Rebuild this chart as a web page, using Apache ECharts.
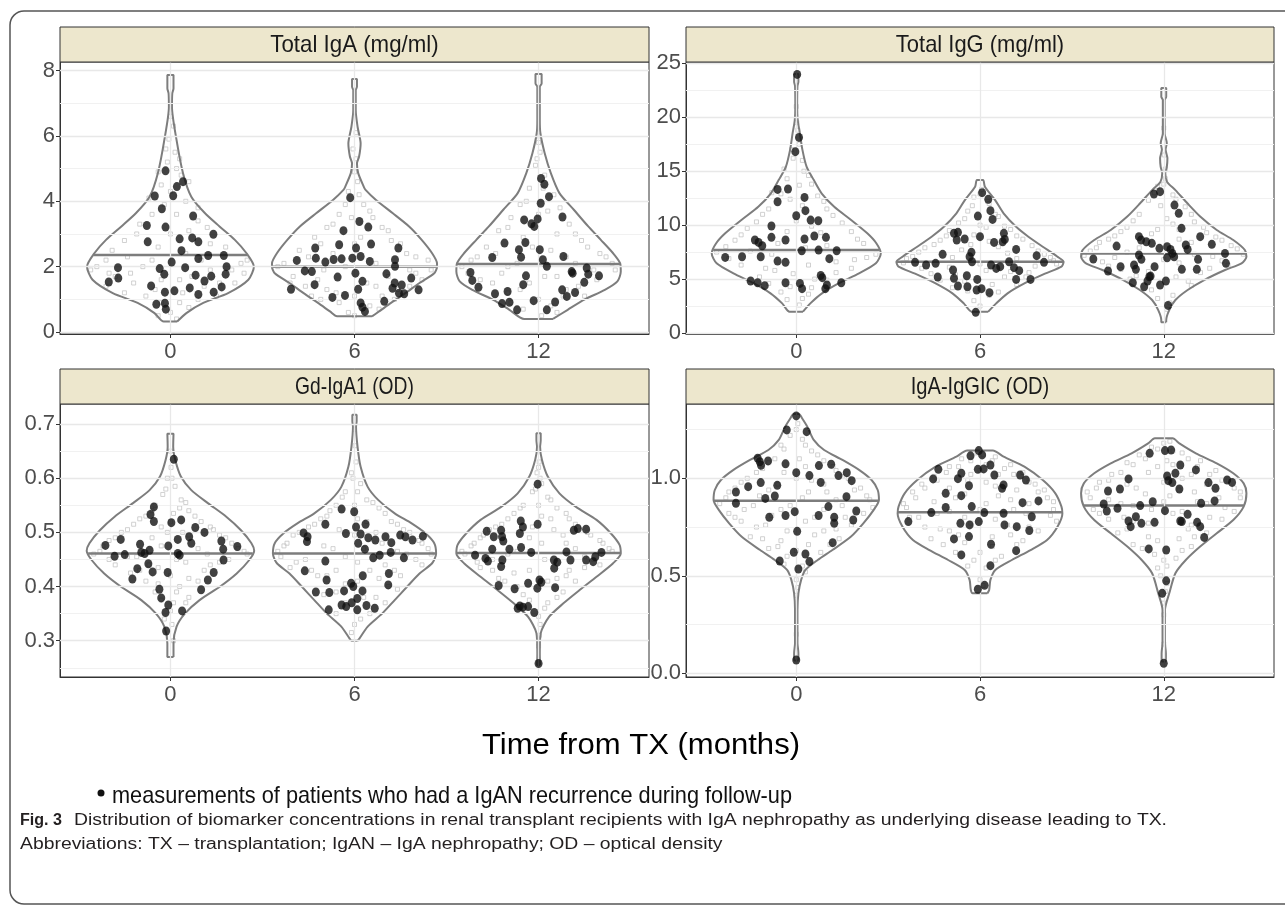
<!DOCTYPE html>
<html><head><meta charset="utf-8">
<script src="https://cdn.jsdelivr.net/npm/echarts@6/dist/echarts.min.js"></script>
<style>html,body{margin:0;padding:0;background:#fff}#c{width:1285px;height:906px}</style>
</head><body><div id="c"></div>
<script>
// ---------------- DATA ----------------
const months = ['0', '6', '12'];
const monthPos = [0, 6, 12];
const panelTitles = ['Total IgA (mg/ml)', 'Total IgG (mg/ml)', 'Gd-IgA1 (OD)', 'IgA-IgGIC (OD)'];

// tick values
const igaTicks = [0, 2, 4, 6, 8];
const igaMinorGrid = [1, 3, 5, 7];
const iggTicks = [0, 5, 10, 15, 20, 25];
const iggMinorGrid = [2.5, 7.5, 12.5, 17.5, 22.5];
const gdTicks = [0.3, 0.4, 0.5, 0.6, 0.7];
const gdMinorGrid = [0.25, 0.35, 0.45, 0.55, 0.65];
const icTicks = [0, 0.5, 1.0];
const icMinorGrid = [0.25, 0.75, 1.25];

// medians
const igaMedians = [2.36, 2.0, 2.08];
const iggMedians = [7.69, 6.61, 7.38];
const gdMedians = [0.461, 0.461, 0.462];
const icMedians = [0.885, 0.826, 0.86];

// violin profiles: [value, half-width (in months units)], bottom -> top
const igaViolin0 = [[0.32,0.22],[0.58,0.52],[0.89,1.07],[1.19,1.88],[1.6,2.54],[2.0,2.72],[2.41,2.48],[2.82,2.1],[3.23,1.6],[3.64,1.12],[4.14,0.68],[4.86,0.41],[5.87,0.2],[6.89,0.05],[7.3,0.06],[7.45,0.1],[7.86,0.1]];
const igaViolin6 = [[0.48,0.57],[0.63,0.8],[0.89,1.19],[1.19,1.66],[1.5,2.12],[1.8,2.6],[2.0,2.69],[2.1,2.69],[2.41,2.53],[2.82,2.19],[3.23,1.78],[3.64,1.24],[4.04,0.7],[4.35,0.36],[4.45,0.3],[4.86,0.12],[5.16,0.08],[5.37,0.15],[5.77,0.2],[6.28,0.1],[6.79,0.04],[7.4,0.04],[7.5,0.08],[7.74,0.08]];
const igaViolin12 = [[0.4,0.47],[0.68,0.95],[0.99,1.49],[1.29,2.16],[1.55,2.57],[1.85,2.68],[2.1,2.66],[2.41,2.43],[2.82,2.03],[3.23,1.62],[3.74,1.15],[4.25,0.68],[4.86,0.4],[5.47,0.2],[6.08,0.06],[6.5,0.04],[7.5,0.04],[7.6,0.1],[7.89,0.1]];
const iggViolin0 = [[1.98,0.22],[2.75,0.46],[3.68,0.84],[4.6,1.38],[5.53,2.05],[6.46,2.6],[7.38,2.76],[8.3,2.62],[9.24,2.32],[10.5,1.78],[11.7,1.24],[12.9,0.84],[14.2,0.57],[15.4,0.34],[17.0,0.2],[18.5,0.12],[19.7,0.05],[21.0,0.03],[22.9,0.04],[23.3,0.07],[24.0,0.07]];
const iggViolin6 = [[1.98,0.27],[2.75,0.53],[3.68,0.9],[4.6,1.45],[5.5,2.12],[6.15,2.66],[6.6,2.73],[7.07,2.53],[8.0,2.05],[8.93,1.58],[9.85,1.18],[11.1,0.77],[12.3,0.5],[13.56,0.16],[14.18,0.1]];
const iggViolin12 = [[1.0,0.08],[1.2,0.08],[2.13,0.18],[3.06,0.38],[3.99,0.78],[4.91,1.32],[5.84,2.0],[6.46,2.54],[7.07,2.7],[7.69,2.65],[8.62,2.27],[9.55,1.73],[10.8,1.19],[12.0,0.78],[13.25,0.38],[14.0,0.11],[14.8,0.05],[15.4,0.1],[16.2,0.12],[17.0,0.06],[17.6,0.1],[18.5,0.03],[21.6,0.03],[21.9,0.08],[22.7,0.08]];
const gdViolin0 = [[0.27,0.1],[0.295,0.1],[0.326,0.2],[0.35,0.47],[0.375,0.95],[0.4,1.62],[0.424,2.16],[0.449,2.57],[0.466,2.73],[0.48,2.64],[0.504,2.3],[0.529,1.82],[0.554,1.22],[0.578,0.68],[0.603,0.34],[0.633,0.16],[0.658,0.09],[0.682,0.1]];
const gdViolin6 = [[0.3,0.1],[0.304,0.16],[0.326,0.43],[0.35,0.9],[0.375,1.31],[0.4,1.72],[0.424,2.12],[0.443,2.53],[0.461,2.66],[0.48,2.6],[0.498,2.32],[0.517,1.85],[0.535,1.31],[0.56,0.77],[0.584,0.43],[0.621,0.2],[0.658,0.1],[0.695,0.05],[0.705,0.07],[0.717,0.07]];
const gdViolin12 = [[0.255,0.05],[0.277,0.04],[0.314,0.07],[0.344,0.34],[0.369,0.81],[0.394,1.35],[0.418,1.89],[0.443,2.43],[0.461,2.68],[0.477,2.64],[0.498,2.36],[0.523,1.89],[0.547,1.22],[0.572,0.68],[0.603,0.3],[0.634,0.11],[0.658,0.05],[0.67,0.07],[0.683,0.07]];
const icViolin0 = [[0.065,0.07],[0.103,0.07],[0.154,0.04],[0.325,0.04],[0.41,0.07],[0.479,0.16],[0.53,0.3],[0.581,0.7],[0.632,1.18],[0.7,1.78],[0.769,2.19],[0.838,2.53],[0.889,2.7],[0.94,2.66],[0.991,2.46],[1.043,2.05],[1.094,1.51],[1.145,0.91],[1.197,0.57],[1.265,0.36],[1.308,0.19],[1.33,0.09]];
const icViolin6 = [[0.41,0.24],[0.427,0.3],[0.479,0.34],[0.53,0.5],[0.581,1.04],[0.632,1.65],[0.684,2.19],[0.752,2.53],[0.82,2.69],[0.855,2.66],[0.923,2.46],[0.991,2.05],[1.06,1.45],[1.111,0.77],[1.142,0.42]];
const icViolin12 = [[0.06,0.07],[0.103,0.07],[0.154,0.04],[0.325,0.04],[0.41,0.18],[0.513,0.38],[0.581,0.72],[0.65,1.19],[0.718,1.73],[0.786,2.27],[0.855,2.61],[0.923,2.7],[0.974,2.61],[1.026,2.27],[1.077,1.73],[1.128,1.05],[1.179,0.51],[1.205,0.29]];

// black dots (recurrence patients): [x jitter in months units, value]
const igaDots0 = [[-0.16,4.93],[0.41,4.60],[0.21,4.45],[0.09,4.17],[-0.51,4.16],[-0.28,3.77],[0.74,3.55],[-0.77,3.26],[-0.16,3.21],[-0.74,2.76],[0.30,2.85],[0.71,2.88],[0.91,2.76],[0.36,2.49],[1.40,2.99],[1.23,2.34],[1.74,2.34],[0.91,2.25],[1.83,2.0],[1.80,1.77],[0.04,2.14],[0.48,1.97],[-0.35,1.94],[-0.2,1.77],[-1.71,1.97],[-1.70,1.65],[-2.01,1.53],[0.82,1.74],[1.33,1.71],[1.11,1.56],[-0.63,1.41],[-0.18,1.22],[0.13,1.26],[0.63,1.35],[0.91,1.15],[1.41,1.22],[1.67,1.38],[-0.46,0.85],[-0.18,0.88],[-0.15,0.70]];
const igaDots6 = [[-0.14,4.11],[0.16,3.38],[0.45,3.21],[-0.36,3.10],[-0.5,2.67],[0.05,2.57],[0.54,2.69],[0.2,2.31],[0.5,2.16],[1.43,2.57],[1.32,2.21],[1.32,2.01],[-1.28,2.57],[-1.26,2.26],[-1.62,1.87],[-1.39,1.85],[-1.88,2.19],[-0.95,2.14],[-0.68,2.22],[-0.42,2.24],[-0.07,2.26],[-2.07,1.31],[-1.3,1.45],[-0.55,1.68],[0.03,1.8],[0.26,1.55],[0.12,1.31],[-0.72,1.06],[-0.31,1.12],[0.2,0.89],[0.26,0.76],[0.34,0.63],[1.04,1.78],[1.31,1.5],[1.24,1.34],[1.54,1.44],[1.85,1.65],[2.09,1.29],[1.45,1.19],[1.62,1.17],[0.97,0.94]];
const igaDots12 = [[0.08,4.70],[0.19,4.52],[0.34,4.14],[0.07,3.94],[0.78,3.52],[-0.47,3.43],[-0.23,3.31],[-0.14,3.23],[-0.03,3.46],[-1.11,2.72],[-0.43,2.74],[-0.64,2.52],[-0.57,2.29],[0.04,2.52],[0.14,2.21],[0.27,2.01],[0.81,2.31],[-1.51,2.28],[-0.41,1.72],[1.08,1.85],[1.11,1.8],[1.57,1.96],[1.62,1.77],[1.97,1.72],[1.49,1.52],[-2.22,1.82],[-2.16,1.58],[-1.96,1.37],[-1.42,1.17],[-1.01,1.24],[-0.95,0.91],[-1.19,0.87],[-0.7,0.68],[-0.5,1.45],[-0.16,0.96],[0.27,0.68],[0.54,0.92],[0.77,1.29],[0.92,1.09],[1.19,1.21]];
const iggDots0 = [[0.03,23.97],[0.09,18.13],[-0.03,16.81],[-0.61,13.31],[-0.27,13.35],[-0.61,12.17],[0.27,12.57],[0,10.87],[0.3,11.34],[0.47,10.47],[0.72,10.41],[-0.81,9.92],[-0.81,8.87],[-1.35,8.62],[-1.23,8.4],[-1.11,8.09],[-0.35,8.62],[0.27,8.71],[0.59,8.99],[0.97,8.87],[0.18,7.63],[0.73,7.69],[1.32,7.63],[1.08,6.89],[-2.32,7.01],[-1.77,7.07],[-1.16,7.07],[-0.61,6.67],[-0.35,6.55],[0.8,5.34],[0.85,5.13],[1.0,4.45],[0.95,4.11],[1.47,4.66],[-1.49,4.82],[-1.26,4.66],[-1.03,4.39],[-0.35,4.66],[0.12,4.6],[0.19,4.11]];
const iggDots6 = [[0.07,13.01],[0.27,12.39],[0.34,11.34],[0.41,10.53],[-0.07,10.84],[0,8.93],[-0.76,8.62],[-0.5,8.71],[-0.85,9.24],[-0.72,9.33],[0.78,9.24],[0.74,8.46],[0.81,8.68],[0.46,8.4],[1.18,7.75],[1.85,7.17],[2.09,6.55],[-0.28,7.48],[-0.34,7.07],[-0.26,6.61],[-1.22,7.29],[-2.12,6.55],[-1.76,6.3],[-1.45,6.46],[-0.88,5.84],[-0.85,5.07],[-1.38,5.19],[-0.43,5.31],[-0.09,4.97],[0.36,6.3],[0.53,5.99],[0.66,6.15],[0.95,6.61],[1.11,6.06],[1.28,5.78],[1.18,4.97],[1.65,4.97],[-0.72,4.36],[-0.41,4.29],[-0.11,3.99],[0.05,4.11],[0.31,3.74],[-0.14,1.92]];
const iggDots12 = [[-0.32,12.88],[-0.12,13.1],[0.35,11.86],[0.49,11.09],[0.58,9.7],[-0.81,8.93],[-0.74,8.62],[-0.57,8.46],[-0.39,8.31],[-0.14,7.85],[0.11,8.0],[0.22,7.75],[0.72,8.16],[0.78,7.75],[1.19,8.93],[1.57,8.22],[-1.54,8.06],[-2.3,6.86],[-1.82,5.75],[-1.41,6.15],[-0.81,7.23],[-0.73,6.83],[-0.97,6.3],[-0.91,5.9],[-0.3,6.15],[0.11,6.98],[0.34,7.07],[0.28,7.38],[0.59,5.9],[1.12,6.83],[1.08,5.9],[2.0,7.38],[2.03,6.46],[-1.01,4.66],[-0.64,4.29],[-0.47,5.22],[-0.12,4.45],[0.07,4.82],[0.14,2.56],[-0.43,5.28],[-0.53,4.82]];
const gdDots0 = [[0.11,0.635],[-0.54,0.547],[-0.65,0.533],[-0.54,0.520],[0.03,0.518],[0.35,0.523],[0.81,0.509],[1.11,0.500],[0.24,0.487],[0.61,0.492],[0.68,0.480],[-1.62,0.487],[-2.12,0.476],[-1.49,0.459],[-1.82,0.456],[-0.99,0.478],[-0.95,0.463],[-0.68,0.467],[-0.84,0.461],[-0.07,0.475],[0.24,0.461],[0.3,0.458],[1.66,0.484],[1.72,0.469],[1.73,0.449],[2.18,0.474],[-0.72,0.442],[-1.08,0.433],[-1.24,0.414],[-0.58,0.427],[-0.09,0.426],[1.41,0.426],[1.22,0.412],[1.0,0.394],[-0.36,0.395],[-0.3,0.379],[-0.07,0.366],[-0.16,0.352],[0.38,0.355],[-0.14,0.318]];
const gdDots6 = [[-0.42,0.543],[-0.01,0.538],[0.36,0.515],[0.05,0.510],[-0.95,0.515],[-0.28,0.498],[-1.66,0.499],[-1.53,0.492],[-1.55,0.483],[0.2,0.497],[0.45,0.490],[0.12,0.480],[0.34,0.469],[0.68,0.486],[1.01,0.492],[1.2,0.481],[1.49,0.495],[1.66,0.492],[1.89,0.486],[2.23,0.493],[0.61,0.453],[0.82,0.458],[1.18,0.463],[1.61,0.453],[-0.95,0.447],[-1.62,0.429],[-0.91,0.412],[-1.26,0.390],[-0.82,0.389],[-0.34,0.392],[-0.04,0.400],[-0.11,0.406],[0.27,0.420],[0.26,0.392],[1.12,0.424],[1.1,0.403],[-0.42,0.366],[0.09,0.378],[0.09,0.357],[-0.27,0.363],[0.39,0.365],[0.66,0.360],[-0.84,0.357],[-0.09,0.370]];
const gdDots12 = [[-0.03,0.589],[-0.03,0.515],[-0.58,0.521],[-0.51,0.510],[-0.61,0.498],[-1.69,0.502],[-1.46,0.492],[-1.22,0.504],[-1.19,0.492],[-1.15,0.484],[-0.57,0.472],[-0.95,0.469],[-1.51,0.469],[-2.07,0.458],[-1.73,0.452],[-1.65,0.447],[-1.18,0.449],[-0.24,0.463],[0.5,0.449],[0.61,0.445],[0.91,0.464],[1.04,0.449],[1.15,0.504],[1.28,0.507],[1.55,0.506],[1.55,0.449],[1.78,0.446],[1.85,0.455],[2.05,0.463],[-1.22,0.437],[0.51,0.434],[-0.34,0.406],[0.03,0.412],[0.09,0.408],[-0.04,0.397],[-0.78,0.396],[0.54,0.398],[-1.3,0.402],[-0.61,0.364],[-0.34,0.363],[-0.51,0.362],[-0.68,0.360],[-0.14,0.352],[0,0.258]];
const icDots0 = [[0,1.320],[-0.31,1.248],[0.34,1.239],[-1.26,1.103],[-1.19,1.085],[-0.92,1.089],[-0.35,1.074],[0.74,1.065],[1.14,1.072],[-1.15,1.067],[-1.57,0.957],[-1.16,0.978],[-1.01,0.897],[-0.62,0.964],[-0.7,0.909],[0,1.029],[0.43,1.014],[0.8,0.979],[1.38,1.014],[1.65,1.029],[1.81,0.988],[1.64,0.906],[-1.97,0.930],[-1.97,0.872],[-0.88,0.8],[-0.35,0.809],[-0.05,0.829],[0.73,0.809],[1.05,0.855],[1.24,0.8],[1.24,0.769],[1.86,0.786],[1.96,0.832],[0.03,0.728],[1.19,0.670],[-0.08,0.621],[0.3,0.612],[0.43,0.573],[-0.54,0.576],[0.07,0.535],[0,0.068]];
const icDots6 = [[-0.04,1.142],[-0.31,1.115],[0.07,1.12],[-1.36,1.046],[-1.53,0.997],[-0.61,1.026],[-0.72,0.998],[-1.12,0.923],[-0.61,0.911],[-0.36,0.962],[-0.07,1.046],[0.12,1.048],[0.34,1.068],[0.47,1.017],[0.77,0.966],[0.72,0.949],[1.31,1.017],[1.5,0.991],[-0.27,0.855],[0.14,0.824],[-1.12,0.85],[-1.59,0.824],[-2.34,0.778],[-0.64,0.769],[-0.34,0.761],[-0.04,0.778],[0.77,0.821],[0.8,0.761],[1.2,0.752],[1.39,0.875],[1.69,0.803],[1.61,0.732],[1.91,0.884],[-0.85,0.689],[-0.36,0.701],[0.36,0.662],[1.18,0.629],[-0.61,0.607],[0.34,0.552],[-0.07,0.431],[0.15,0.451]];
const icDots12 = [[-0.46,1.128],[0.04,1.142],[0.24,1.145],[0.54,1.068],[0.38,1.026],[0.11,1.012],[0.28,0.978],[0.15,0.988],[1.05,1.043],[-1.15,0.997],[-1.43,0.945],[-1.82,0.935],[0.51,0.945],[1.46,0.978],[1.69,0.949],[2.07,0.991],[2.23,0.979],[-1.96,0.868],[-1.86,0.832],[-1.51,0.846],[-0.77,0.86],[-0.36,0.88],[0.04,0.834],[0.54,0.781],[0.78,0.815],[1.22,0.872],[1.66,0.884],[-0.91,0.803],[-1.15,0.781],[-1.08,0.752],[-0.73,0.769],[-0.3,0.774],[0.59,0.778],[1.09,0.774],[1.19,0.752],[1.32,0.697],[-0.49,0.638],[0.08,0.632],[0.08,0.474],[-0.05,0.41],[0,0.051]];

// grey open squares (all other measurements): [x jitter in months units, value]
const igaGray0 = [[0.1,6.3],[-0.05,5.9],[0.15,5.5],[-0.1,5.2],[0.2,5.0],[0.35,4.8],[-0.3,4.5],[0.0,4.3],[0.5,4.0],[-0.6,3.6],[0.2,3.6],[0.9,3.4],[-1.1,3.0],[0.6,3.1],[-1.5,2.8],[1.3,2.7],[-0.4,2.6],[-2.1,2.2],[2.3,2.1],[-1.4,2.3],[1.0,2.2],[-0.9,2.0],[2.0,1.9],[-2.4,2.0],[-1.8,1.7],[0.3,1.6],[1.6,1.5],[-1.2,1.5],[-0.5,1.3],[0.9,1.0],[-0.8,1.1],[1.1,1.4],[0.0,0.6],[0.3,0.9],[-2.0,1.8],[2.4,1.8],
  [0.0,6.6],[-0.15,5.6],[0.3,5.3],[-0.4,4.9],[0.6,4.6],[-0.7,4.1],[0.9,3.8],[-0.2,3.9],[-1.0,3.3],[1.2,3.2],[0.0,3.0],[-1.9,2.5],[1.8,2.6],[0.5,2.4],[-0.6,2.2],[2.5,2.2],[-2.6,1.9],[1.3,1.9],[-1.3,1.8],[0.7,1.7],[-0.3,1.6],[2.1,1.5],[-2.1,1.4],[1.5,1.1],[-1.5,1.2],[0.4,1.2],[-0.3,0.9],[0.6,0.75],[-0.4,0.5],[0.2,0.4]];
const igaGray6 = [[0.05,6.1],[-0.05,5.6],[0.05,5.3],[0.1,4.6],[-0.2,4.3],[0.3,3.9],[-0.5,3.6],[0.6,3.5],[-0.9,3.2],[1.1,3.1],[-1.3,2.9],[0.2,2.9],[1.5,2.7],[-1.8,2.5],[-0.7,2.4],[2.0,2.3],[2.4,2.2],[-2.3,2.1],[0.7,2.1],[-1.0,1.9],[1.8,1.9],[-2.0,1.7],[0.4,1.5],[-1.6,1.4],[1.4,1.3],[-0.6,1.2],[0.9,1.1],[-1.1,1.0],[0.0,0.5],[0.5,0.8],[2.2,1.6],
  [0.0,4.9],[0.15,4.2],[-0.3,3.9],[0.5,3.7],[-0.1,3.5],[-0.7,3.3],[0.9,3.2],[-1.1,2.7],[1.2,2.8],[0.0,2.7],[-1.5,2.3],[1.7,2.4],[-0.3,2.0],[-2.5,2.0],[2.5,1.9],[1.1,1.7],[-1.2,1.6],[-2.1,1.5],[0.7,1.4],[1.8,1.4],[-0.9,1.3],[0.0,1.1],[1.3,1.0],[-0.5,0.9],[0.8,0.7],[-0.2,0.6],[-1.4,1.1],[2.0,1.8]];
const igaGray12 = [[0.0,6.0],[0.05,5.5],[-0.1,5.1],[0.2,4.8],[-0.3,4.4],[0.5,4.2],[-0.6,3.9],[0.3,3.7],[-0.9,3.5],[1.0,3.3],[-1.3,3.1],[0.6,3.0],[1.4,2.8],[-1.7,2.6],[-0.2,2.6],[2.0,2.4],[-2.2,2.2],[0.9,2.3],[2.4,2.1],[-1.0,2.0],[1.8,1.9],[-2.3,1.8],[0.2,1.7],[-1.5,1.5],[1.3,1.4],[-0.6,1.3],[0.8,1.1],[-0.9,0.9],[0.1,0.5],[0.4,0.8],
  [0.0,5.8],[-0.05,5.3],[0.15,4.4],[-0.4,4.0],[0.7,3.8],[0.0,3.6],[-1.0,3.2],[1.2,3.0],[-0.5,2.9],[1.6,2.6],[-1.4,2.4],[0.4,2.5],[-2.0,2.3],[2.2,2.3],[-0.7,2.1],[1.2,2.1],[-2.5,2.0],[2.5,1.9],[-1.2,1.8],[0.6,1.7],[1.9,1.6],[-1.9,1.6],[-0.3,1.5],[0.9,1.3],[-1.0,1.2],[1.5,1.1],[0.0,1.0],[-0.5,0.7],[0.6,0.6]];
const iggGray0 = [[0.02,19.5],[0.1,17.5],[-0.1,16.2],[0.25,15.0],[-0.3,14.3],[0.5,13.8],[-0.5,12.9],[0.9,12.2],[-0.9,11.5],[0.2,11.8],[1.2,10.9],[-1.3,10.3],[0.5,9.9],[1.8,9.4],[-1.8,9.1],[-0.3,9.4],[2.2,8.3],[-2.3,8.0],[1.0,8.1],[2.6,7.3],[-2.6,7.5],[-0.8,7.3],[1.9,6.8],[-1.8,6.3],[0.4,6.3],[-0.7,5.8],[1.3,5.6],[-1.2,5.2],[0.6,5.0],[-0.2,4.3],[0.4,3.6],[-0.3,3.1],[0.1,2.6],
  [0.0,21.0],[0.05,18.8],[-0.15,17.0],[0.2,16.0],[-0.4,15.2],[0.4,14.6],[0.1,13.7],[-0.8,13.0],[0.7,12.7],[-0.2,12.4],[1.0,11.5],[-1.1,11.0],[0.0,10.4],[1.5,10.2],[-1.6,9.7],[0.8,9.3],[-2.0,8.6],[2.0,8.7],[-0.6,8.3],[0.3,7.9],[-1.5,7.6],[2.3,7.0],[-2.2,6.9],[1.3,6.6],[-1.0,6.0],[1.8,6.0],[-0.1,5.5],[1.0,4.9],[-0.9,4.6],[0.5,4.2],[-0.5,3.8],[0.2,3.2]];
const iggGray6 = [[0.05,13.3],[-0.2,12.6],[0.3,12.0],[-0.4,11.3],[0.6,10.8],[-0.7,10.2],[0.2,9.8],[1.0,9.6],[-1.1,9.0],[-0.2,9.1],[1.4,8.7],[-1.5,8.2],[0.6,8.0],[1.9,7.6],[-2.0,7.5],[-0.6,7.7],[2.3,7.0],[-2.4,6.9],[1.2,6.9],[2.5,6.4],[-1.0,6.1],[0.2,5.8],[1.6,5.6],[-1.6,5.5],[0.8,5.2],[-0.5,4.8],[1.2,4.5],[-0.9,4.2],[0.3,3.5],[-0.2,3.0],
  [0.0,12.9],[0.25,12.2],[-0.25,11.8],[0.5,11.0],[-0.5,10.6],[0.0,10.0],[-1.0,9.5],[0.8,9.9],[1.2,9.0],[-1.3,8.6],[0.3,8.5],[1.7,8.1],[-0.3,8.2],[-1.8,7.9],[2.1,7.3],[-2.2,7.1],[0.9,7.4],[-0.9,7.0],[2.4,6.7],[-2.5,6.5],[0.0,6.4],[1.8,6.2],[-1.9,6.0],[1.0,5.7],[-0.8,5.4],[1.5,5.2],[-1.3,4.9],[0.4,4.5],[-0.4,3.9],[0.6,3.8],[0.0,2.5]];
const iggGray12 = [[0.02,16.5],[0.05,14.3],[-0.2,13.6],[0.3,12.8],[-0.5,12.3],[0.7,11.7],[-0.8,11.0],[0.1,10.6],[1.0,10.3],[-1.2,9.8],[0.5,9.6],[1.4,9.3],[-1.6,9.0],[-0.4,9.2],[1.9,8.6],[-2.1,8.4],[0.9,8.4],[2.4,7.8],[-2.4,7.6],[-1.2,7.5],[1.6,7.1],[-2.0,6.6],[0.5,6.5],[2.1,6.3],[-1.4,5.9],[1.2,5.6],[-0.9,5.3],[0.8,4.8],[-0.4,4.0],[0.3,3.5],[0.1,2.2],
  [0.0,19.0],[0.05,15.2],[0.0,13.8],[-0.3,13.0],[0.4,12.4],[-0.1,11.8],[0.9,11.0],[-1.0,10.4],[0.3,10.1],[1.3,9.8],[-1.4,9.4],[-0.2,9.6],[1.7,8.9],[-1.8,8.7],[0.5,8.7],[2.2,8.1],[-2.2,7.9],[-0.8,7.9],[2.6,7.3],[-2.6,7.2],[1.0,7.3],[-1.6,7.0],[1.9,6.7],[0.0,6.8],[-1.8,6.2],[1.5,6.0],[-0.5,5.7],[0.4,5.2],[-1.1,5.0],[0.9,4.4],[-0.2,3.2],[0.2,2.8]];
const gdGray0 = [[0.02,0.62],[-0.1,0.60],[0.15,0.585],[-0.25,0.57],[0.35,0.56],[-0.5,0.55],[0.6,0.54],[-0.8,0.53],[0.1,0.535],[1.0,0.52],[-1.2,0.515],[-0.3,0.51],[1.4,0.505],[-1.6,0.50],[0.4,0.50],[1.8,0.49],[-2.0,0.485],[-0.6,0.49],[2.2,0.47],[-2.3,0.465],[0.9,0.47],[2.5,0.46],[-1.1,0.455],[0.2,0.45],[1.6,0.445],[-1.8,0.44],[-0.4,0.435],[1.1,0.43],[-1.3,0.425],[0.6,0.415],[-0.8,0.41],[0.3,0.40],[-0.5,0.39],[0.6,0.38],[0.1,0.37],[-0.2,0.34],[0.05,0.33],
  [0.0,0.65],[0.05,0.6],[-0.15,0.58],[0.5,0.555],[-0.6,0.54],[0.3,0.545],[-1.0,0.525],[0.8,0.53],[0.0,0.52],[1.3,0.51],[-1.4,0.505],[-0.1,0.50],[1.6,0.495],[-1.8,0.49],[0.6,0.495],[2.0,0.48],[-2.2,0.475],[-0.3,0.475],[2.4,0.465],[-2.5,0.46],[1.2,0.46],[-1.4,0.455],[0.5,0.445],[1.9,0.45],[-2.0,0.45],[-0.7,0.44],[1.3,0.44],[-1.0,0.43],[0.0,0.42],[0.9,0.41],[-0.4,0.405],[0.2,0.39],[-0.3,0.375],[0.5,0.37],[0.0,0.355],[0.1,0.3]];
const gdGray6 = [[0.02,0.66],[0.05,0.63],[-0.1,0.61],[0.2,0.59],[-0.3,0.575],[0.4,0.56],[-0.6,0.55],[0.8,0.545],[-0.9,0.53],[0.1,0.525],[1.2,0.52],[-1.3,0.515],[1.6,0.505],[-1.8,0.50],[-0.5,0.505],[0.7,0.50],[2.1,0.485],[-2.2,0.48],[-1.0,0.475],[2.4,0.47],[-2.5,0.465],[0.3,0.47],[1.4,0.465],[-0.3,0.455],[2.0,0.45],[-1.9,0.445],[1.0,0.44],[-1.4,0.43],[0.5,0.43],[1.5,0.42],[-0.9,0.42],[0.1,0.41],[1.1,0.40],[-0.6,0.39],[0.7,0.38],[-0.3,0.37],[0.5,0.35],[0.0,0.33],
  [0.0,0.69],[-0.05,0.6],[0.1,0.575],[-0.4,0.565],[0.6,0.555],[0.0,0.55],[-0.8,0.54],[1.0,0.535],[-1.1,0.525],[0.4,0.52],[1.4,0.515],[-1.5,0.51],[1.8,0.5],[-2.0,0.495],[0.0,0.495],[2.2,0.48],[-2.3,0.475],[0.9,0.48],[-0.7,0.47],[2.5,0.46],[-2.4,0.455],[1.7,0.46],[-1.6,0.45],[0.1,0.445],[2.2,0.44],[-2.1,0.435],[-0.6,0.43],[1.3,0.43],[-1.2,0.42],[0.8,0.415],[-0.3,0.405],[1.4,0.395],[-1.0,0.385],[0.3,0.38],[1.0,0.37],[-0.6,0.35],[0.2,0.34],[-0.1,0.315]];
const gdGray12 = [[0.02,0.63],[-0.05,0.61],[0.1,0.59],[-0.2,0.575],[0.3,0.565],[-0.5,0.55],[0.6,0.545],[-0.8,0.535],[0.1,0.53],[1.0,0.525],[-1.2,0.515],[1.3,0.51],[-1.6,0.505],[0.5,0.505],[1.7,0.495],[-1.9,0.49],[-0.3,0.49],[2.1,0.48],[-2.2,0.475],[0.9,0.48],[2.4,0.465],[-2.4,0.46],[-0.7,0.465],[1.5,0.455],[-1.5,0.45],[0.2,0.45],[2.0,0.44],[-1.9,0.435],[1.0,0.43],[-0.8,0.425],[0.6,0.415],[-1.1,0.41],[1.2,0.41],[0.0,0.40],[-0.5,0.385],[0.6,0.38],[0.2,0.36],[0.05,0.33],[0.03,0.31],
  [0.0,0.62],[0.05,0.6],[-0.1,0.58],[0.4,0.56],[-0.6,0.545],[0.0,0.55],[0.9,0.535],[-1.0,0.525],[0.4,0.525],[1.2,0.515],[-1.4,0.51],[-0.2,0.51],[1.6,0.5],[-1.8,0.495],[0.8,0.495],[2.0,0.485],[-2.1,0.48],[0.1,0.48],[2.3,0.47],[-2.5,0.465],[1.2,0.47],[-1.0,0.46],[1.8,0.45],[-2.0,0.445],[0.6,0.445],[1.5,0.435],[-1.5,0.43],[-0.3,0.43],[0.9,0.42],[-1.3,0.415],[0.3,0.41],[-0.7,0.4],[0.8,0.39],[-0.3,0.375],[0.3,0.37],[0.0,0.345],[0.0,0.29]];
const icGray0 = [[0.05,1.28],[-0.2,1.22],[0.2,1.2],[-0.4,1.15],[0.5,1.14],[-0.7,1.1],[0.9,1.09],[0.1,1.1],[-1.1,1.05],[1.3,1.04],[-0.4,1.03],[-1.6,1.0],[1.7,1.0],[0.5,0.99],[-2.0,0.95],[2.1,0.95],[-0.9,0.94],[1.0,0.93],[-2.3,0.9],[2.4,0.89],[0.2,0.9],[-1.4,0.86],[1.5,0.86],[-2.2,0.82],[2.2,0.82],[-0.5,0.84],[0.6,0.8],[-1.8,0.78],[1.8,0.76],[-1.0,0.76],[0.9,0.73],[-1.5,0.7],[1.4,0.69],[-0.5,0.68],[0.4,0.66],[-0.9,0.64],[0.8,0.62],[-0.3,0.6],[0.2,0.55],[0.0,0.48],[0.05,0.44],
  [0.0,1.25],[0.3,1.17],[-0.5,1.17],[0.7,1.12],[-0.9,1.08],[0.3,1.06],[1.2,1.06],[-1.3,1.03],[0.0,1.0],[1.5,1.01],[-1.8,0.98],[0.9,0.97],[-0.6,0.97],[1.9,0.94],[-2.2,0.93],[0.4,0.93],[-1.2,0.91],[2.3,0.91],[-2.5,0.87],[1.3,0.89],[-0.2,0.86],[2.5,0.85],[0.9,0.84],[-1.7,0.84],[-0.8,0.81],[1.6,0.8],[-2.0,0.8],[0.3,0.78],[-1.3,0.75],[1.3,0.74],[-0.3,0.73],[0.6,0.71],[-1.1,0.69],[1.1,0.66],[-0.6,0.65],[0.0,0.63],[-0.4,0.56],[0.3,0.52],[0.0,0.4],[0.0,0.2]];
const icGray6 = [[0.1,1.12],[-0.3,1.09],[0.4,1.09],[-0.7,1.06],[0.8,1.05],[-1.1,1.03],[1.1,1.02],[0.0,1.04],[-1.4,0.99],[1.6,0.98],[-0.4,0.99],[-1.8,0.95],[1.9,0.93],[0.5,0.96],[-2.1,0.9],[2.2,0.9],[-0.8,0.9],[1.0,0.89],[-2.4,0.85],[2.4,0.84],[0.2,0.87],[-1.4,0.82],[1.5,0.82],[-2.3,0.8],[2.5,0.78],[-0.5,0.8],[0.5,0.79],[-1.8,0.75],[1.9,0.73],[-1.0,0.73],[1.0,0.71],[-1.6,0.69],[1.4,0.68],[-0.5,0.67],[0.4,0.65],[-0.8,0.62],[0.7,0.6],[-0.2,0.58],[0.2,0.54],[0.0,0.48],
  [-0.1,1.13],[0.5,1.11],[-0.6,1.1],[1.0,1.07],[-1.0,1.06],[0.2,1.07],[1.4,1.03],[-1.5,1.01],[0.6,1.02],[-0.3,1.02],[1.8,0.97],[-1.9,0.97],[0.2,0.98],[-1.0,0.95],[2.1,0.94],[-2.2,0.93],[1.2,0.94],[-0.5,0.92],[0.6,0.91],[2.4,0.88],[-2.5,0.87],[-1.5,0.88],[1.6,0.87],[0.0,0.84],[-1.0,0.83],[1.1,0.84],[2.3,0.81],[-2.0,0.8],[-0.3,0.77],[0.9,0.76],[-1.3,0.74],[1.6,0.75],[-0.7,0.71],[0.4,0.7],[1.2,0.66],[-1.2,0.66],[0.0,0.62],[0.5,0.58],[-0.4,0.55],[0.1,0.45]];
const icGray12 = [[0.0,1.18],[-0.2,1.15],[0.3,1.14],[-0.6,1.1],[0.8,1.1],[0.1,1.09],[-1.0,1.07],[1.1,1.06],[-1.4,1.03],[1.5,1.02],[-0.5,1.03],[-1.8,0.99],[1.9,0.99],[0.6,1.0],[-2.2,0.95],[2.3,0.95],[-0.9,0.95],[1.0,0.93],[-2.4,0.9],[2.5,0.9],[0.2,0.91],[-1.4,0.87],[1.4,0.87],[-2.3,0.84],[2.3,0.83],[-0.4,0.84],[0.6,0.83],[-1.8,0.79],[1.9,0.79],[-1.0,0.78],[0.9,0.76],[-1.5,0.72],[1.4,0.72],[-0.5,0.7],[0.5,0.69],[-1.0,0.66],[0.9,0.65],[-0.3,0.61],[0.4,0.59],[0.1,0.55],[-0.1,0.5],[0.05,0.42],[0.0,0.36],
  [0.2,1.19],[-0.4,1.16],[0.6,1.13],[-0.8,1.12],[1.2,1.09],[-1.2,1.08],[0.3,1.07],[-0.2,1.06],[1.7,1.04],[-1.7,1.02],[0.9,1.02],[2.1,0.99],[-2.1,0.98],[0.0,0.98],[-1.2,0.97],[1.4,0.97],[2.5,0.93],[-2.5,0.93],[0.5,0.94],[-0.6,0.92],[1.8,0.9],[-1.8,0.89],[0.0,0.88],[1.1,0.88],[-1.0,0.86],[2.0,0.85],[-2.1,0.82],[0.3,0.82],[1.5,0.8],[-1.3,0.8],[-0.5,0.77],[0.8,0.74],[-1.2,0.74],[1.0,0.7],[-0.2,0.68],[-0.7,0.64],[0.6,0.63],[0.0,0.58],[-0.2,0.54],[0.1,0.46],[0.0,0.3],[0.0,0.15]];

const xTitle = 'Time from TX (months)';
const legendText = 'measurements of patients who had a IgAN recurrence during follow-up';
const captionBold = 'Fig. 3';
const captionLine1 = 'Distribution of biomarker concentrations in renal transplant recipients with IgA nephropathy as underlying disease leading to TX.';
const captionLine2 = 'Abbreviations: TX \u2013 transplantation; IgAN \u2013 IgA nephropathy; OD \u2013 optical density';

// ---------------- LAYOUT ----------------
const grids = [
  {left: 60, top: 62, width: 589, height: 272},
  {left: 686, top: 62, width: 588, height: 272},
  {left: 60, top: 404, width: 589, height: 273},
  {left: 686, top: 404, width: 588, height: 273}
];
const STRIP_H = 35;
const panels = [
  {title: panelTitles[0], violins: [igaViolin0, igaViolin6, igaViolin12], medians: igaMedians, dots: [igaDots0, igaDots6, igaDots12], gray: [igaGray0, igaGray6, igaGray12], ticks: igaTicks, minor: igaMinorGrid, yMin: -0.06, yMax: 8.26, dec: 0},
  {title: panelTitles[1], violins: [iggViolin0, iggViolin6, iggViolin12], medians: iggMedians, dots: [iggDots0, iggDots6, iggDots12], gray: [iggGray0, iggGray6, iggGray12], ticks: iggTicks, minor: iggMinorGrid, yMin: -0.09, yMax: 25.12, dec: 0},
  {title: panelTitles[2], violins: [gdViolin0, gdViolin6, gdViolin12], medians: gdMedians, dots: [gdDots0, gdDots6, gdDots12], gray: [gdGray0, gdGray6, gdGray12], ticks: gdTicks, minor: gdMinorGrid, yMin: 0.233, yMax: 0.737, dec: 1},
  {title: panelTitles[3], violins: [icViolin0, icViolin6, icViolin12], medians: icMedians, dots: [icDots0, icDots6, icDots12], gray: [icGray0, icGray6, icGray12], ticks: icTicks, minor: icMinorGrid, yMin: -0.019, yMax: 1.381, dec: 1}
];

const FONT = "'Liberation Sans', Arial, sans-serif";
const TICK_FONT = "'Liberation Sans Narrow', 'Liberation Sans', sans-serif";
const OUTLINE = '#7d7d7d';

function violinPolygon(profile, c) {
  const right = profile.map(p => [c + p[1], p[0]]);
  const left = profile.slice().reverse().map(p => [c - p[1], p[0]]);
  return right.concat(left, [right[0]]);
}
function widthAt(profile, y) {
  for (let i = 0; i < profile.length - 1; i++) {
    const a = profile[i], b = profile[i + 1];
    if (y >= a[0] && y <= b[0]) return a[1] + (b[1] - a[1]) * (y - a[0]) / (b[0] - a[0]);
  }
  return 0;
}

const xAxes = [], yAxes = [], series = [], graphics = [];
const ctx = document.createElement('canvas').getContext('2d');
function textW(str, font) { ctx.font = font; return ctx.measureText(str).width; }

panels.forEach((p, i) => {
  xAxes.push({
    gridIndex: i, type: 'value', min: -3.6, max: 15.6,
    axisLine: {show: true, onZero: false, lineStyle: {color: '#333', width: 1}},
    axisTick: {show: true, customValues: monthPos, length: 4, lineStyle: {color: '#333'}},
    axisLabel: {customValues: monthPos, formatter: v => months[monthPos.indexOf(v)], color: '#4d4d4d', fontSize: 22, fontFamily: TICK_FONT, margin: 7},
    splitLine: {show: false}
  });
  yAxes.push({
    gridIndex: i, type: 'value', min: p.yMin, max: p.yMax,
    axisLine: {show: true, onZero: false, lineStyle: {color: '#333', width: 1}},
    axisTick: {show: true, customValues: p.ticks, length: 4, lineStyle: {color: '#333'}},
    axisLabel: {customValues: p.ticks, formatter: v => Number(v).toFixed(p.dec), color: '#4d4d4d', fontSize: 22, fontFamily: TICK_FONT, margin: 5},
    splitLine: {show: false}
  });
  // gridlines
  series.push({
    type: 'line', xAxisIndex: i, yAxisIndex: i, data: [], z: 1, silent: true,
    markLine: {
      silent: true, symbol: ['none', 'none'], label: {show: false}, animation: false,
      lineStyle: {type: 'solid'},
      data: [].concat(
        p.minor.map(v => ({yAxis: v, lineStyle: {color: '#F1F1F1', width: 1, type: 'solid'}})),
        p.ticks.map(v => ({yAxis: v, lineStyle: {color: '#E8E8E8', width: 1.3, type: 'solid'}})),
        monthPos.map(v => ({xAxis: v, lineStyle: {color: '#E8E8E8', width: 1.3, type: 'solid'}}))
      )
    }
  });
  // grey squares
  const grayData = [];
  p.gray.forEach((arr, k) => arr.forEach(d => grayData.push([monthPos[k] + d[0], d[1]])));
  series.push({
    type: 'scatter', xAxisIndex: i, yAxisIndex: i, data: grayData, symbol: 'rect', symbolSize: 4, z: 2, silent: true,
    itemStyle: {color: 'rgba(255,255,255,0)', borderColor: '#c6c6c6', borderWidth: 1}
  });
  // violins and medians
  p.violins.forEach((prof, k) => {
    series.push({
      type: 'line', xAxisIndex: i, yAxisIndex: i, data: violinPolygon(prof, monthPos[k]), symbol: 'none', showSymbol: false,
      smooth: 0.25, z: 3, silent: true, lineStyle: {color: OUTLINE, width: 2}
    });
    const m = p.medians[k], hw = widthAt(prof, m);
    series.push({
      type: 'line', xAxisIndex: i, yAxisIndex: i, data: [[monthPos[k] - hw, m], [monthPos[k] + hw, m]], symbol: 'none', showSymbol: false,
      z: 3, silent: true, lineStyle: {color: OUTLINE, width: 2.5}
    });
  });
  // black dots
  const dotData = [];
  p.dots.forEach((arr, k) => arr.forEach(d => dotData.push([monthPos[k] + d[0], d[1]])));
  series.push({
    type: 'scatter', xAxisIndex: i, yAxisIndex: i, data: dotData, symbol: 'circle', symbolSize: [8, 9], z: 5, silent: true,
    itemStyle: {color: '#121212'}
  });
  // strip
  const g = grids[i];
  graphics.push({type: 'rect', shape: {x: g.left, y: g.top - STRIP_H, width: g.width, height: STRIP_H}, style: {fill: '#EDE7CD', stroke: '#333', lineWidth: 1}, z: 10});
  const sf = '24px ' + FONT;
  const sw = textW(p.title, sf);
  const target = p.title.length * 9.9;
  const sc = Math.min(1, target / sw);
  graphics.push({type: 'text', x: g.left + g.width / 2 - sw * sc / 2, y: g.top - STRIP_H / 2 + 1, scaleX: sc, z: 11,
    style: {text: p.title, font: sf, fill: '#1a1a1a', textAlign: 'left', textVerticalAlign: 'middle'}});
});

// outer frame
graphics.push({type: 'rect', shape: {x: 10, y: 11, width: 1300, height: 893, r: 14}, style: {fill: 'none', stroke: '#555', lineWidth: 1.5}, z: 0});
// x axis title
{
  const f = '30px ' + FONT;
  const w = textW(xTitle, f), sc = 318 / w;
  graphics.push({type: 'text', x: 482, y: 746, scaleX: sc, style: {text: xTitle, font: f, fill: '#000', textAlign: 'left', textVerticalAlign: 'middle'}});
}
// legend
{
  graphics.push({type: 'circle', shape: {cx: 101, cy: 793, r: 3.5}, style: {fill: '#111'}});
  const f = '24px ' + FONT;
  const w = textW(legendText, f), sc = 680 / w;
  graphics.push({type: 'text', x: 112, y: 796, scaleX: sc, style: {text: legendText, font: f, fill: '#111', textAlign: 'left', textVerticalAlign: 'middle'}});
}
// caption
{
  const f = '16px ' + FONT, fb = 'bold 16px ' + FONT;
  const X0 = 74, X1 = 1167;
  const sc = (X1 - X0) / textW(captionLine1, f);
  const bw = textW(captionBold, fb);
  graphics.push({type: 'text', x: 20, y: 821, scaleX: 42 / bw, style: {text: captionBold, font: fb, fill: '#231f20', textAlign: 'left', textVerticalAlign: 'middle'}});
  graphics.push({type: 'text', x: X0, y: 821, scaleX: sc, style: {text: captionLine1, font: f, fill: '#231f20', textAlign: 'left', textVerticalAlign: 'middle'}});
  graphics.push({type: 'text', x: 20, y: 845, scaleX: sc, style: {text: captionLine2, font: f, fill: '#231f20', textAlign: 'left', textVerticalAlign: 'middle'}});
}

const chart = echarts.init(document.getElementById('c'), null, {renderer: 'canvas'});
chart.setOption({
  animation: false,
  backgroundColor: '#fff',
  grid: grids.map(g => Object.assign({show: true, borderColor: '#333', borderWidth: 1, backgroundColor: 'rgba(0,0,0,0)', containLabel: false}, g)),
  xAxis: xAxes,
  yAxis: yAxes,
  series: series,
  graphic: {elements: graphics}
});
</script>
</body></html>
